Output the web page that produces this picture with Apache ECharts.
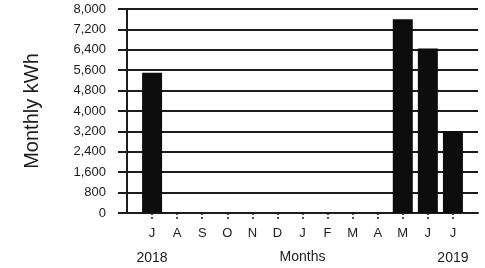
<!DOCTYPE html>
<html>
<head>
<meta charset="utf-8">
<script src="https://cdn.jsdelivr.net/npm/echarts@6/dist/echarts.min.js"></script>
<style>
  html, body { margin: 0; padding: 0; background: #fff; }
  #chart { width: 485px; height: 268px; }
</style>
</head>
<body>
<div id="chart"></div>
<script>
// padded with empty slots at both ends so the months sit inside the grid
const months = ['', 'J', 'A', 'S', 'O', 'N', 'D', 'J', 'F', 'M', 'A', 'M', 'J', 'J', '']
const years = { 1: '2018', 13: '2019' }
const monthlyKwh = [null, 5500, null, null, null, null, null, null, null, null, null, 7600, 6450, 3220, null]

const ink = '#1c1c1c'
const font = 'Liberation Sans, Arial, sans-serif'

const chart = echarts.init(document.getElementById('chart'), null, { renderer: 'canvas' })

chart.setOption({
  backgroundColor: '#fff',
  animation: false,
  grid: { left: 127, right: 7, top: 9, bottom: 55, outerBoundsMode: 'none', containLabel: false },
  xAxis: {
    type: 'category',
    data: months,
    boundaryGap: false,
    name: 'Months',
    nameLocation: 'middle',
    nameGap: 37,
    nameMoveOverlap: false,
    nameTextStyle: { color: ink, fontSize: 14, fontFamily: font },
    axisLine: { lineStyle: { color: ink, width: 2 } },
    axisTick: {
      alignWithLabel: true,
      length: 8,
      interval: (i) => i >= 1 && i <= 13,
      lineStyle: { color: ink, width: 1.5, type: [2, 2] },
    },
    axisLabel: {
      interval: 0,
      margin: 8,
      color: ink,
      fontFamily: font,
      formatter: (v, i) => {
        if (!v) return ''
        return years[i] ? '{m|' + v + '}\n{y|' + years[i] + '}' : '{m|' + v + '}'
      },
      rich: {
        m: { fontSize: 13, lineHeight: 25, color: ink, fontFamily: font },
        y: { fontSize: 14, lineHeight: 25, color: ink, fontFamily: font },
      },
    },
    splitLine: { show: false },
  },
  yAxis: {
    type: 'value',
    min: 0,
    max: 8000,
    interval: 800,
    name: 'Monthly kWh',
    nameLocation: 'middle',
    nameGap: 85,
    nameTextStyle: { color: ink, fontSize: 20, fontFamily: font },
    axisLine: { show: true, lineStyle: { color: ink, width: 2 } },
    axisTick: { show: true, length: 9, lineStyle: { color: ink, width: 2 } },
    axisLabel: {
      margin: 21,
      color: ink,
      fontSize: 13,
      fontFamily: font,
      formatter: (v) => v.toLocaleString('en-US'),
    },
    splitLine: { show: true, lineStyle: { color: ink, width: 2 } },
  },
  series: [
    {
      type: 'bar',
      data: monthlyKwh,
      barWidth: 20,
      itemStyle: { color: '#0d0d0d' },
    },
  ],
})
</script>
</body>
</html>
